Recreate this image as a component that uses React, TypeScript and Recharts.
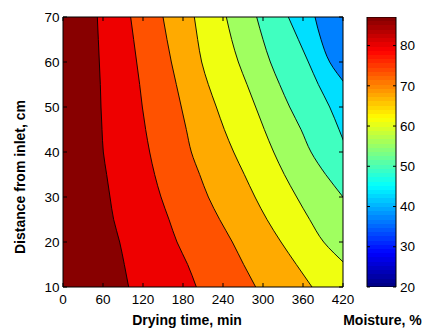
import React from 'react';
import {
  ComposedChart,
  Area,
  XAxis,
  YAxis,
  CartesianGrid,
  BarChart,
  Bar,
} from 'recharts';

// distance from inlet (cm) where each contour line was read
const distance = [70, 65, 60, 55, 50, 45, 40, 35, 30, 25, 20, 15, 10];
// drying time (min) of each contour line at those distances (left to right)
const line1 = [51.5, 53, 54.5, 56, 57, 58.5, 60.5, 65.5, 70.5, 76, 85, 92, 98.5];
const line2 = [101.5, 106, 110.5, 115, 119, 124, 130, 137.5, 147, 159, 171, 187, 200];
const line3 = [150, 156, 162.5, 170, 177.5, 185, 192.5, 205, 218, 235, 254, 271, 289];
const line4 = [197, 202, 208, 218, 230, 242, 256, 272, 288, 306, 327, 350, 373.5];
const line5 = [245, 253, 263, 276, 289, 302, 316, 332, 350.5, 370, 391, 424, 458];
const line6 = [290.5, 300, 311, 325, 340, 357, 372, 394, 420, 444, 470, 497, 525];
const line7 = [338, 353, 368, 383, 400, 414, 428, 446, 465, 485, 505, 525, 545];
const line8 = [378, 387, 400, 424, 450, 475, 500, 525, 550, 575, 600, 625, 650];

// band fill colours, from the left-most band to the right-most one
const bandColors = [
  '#880000', '#EE0000', '#FF5200', '#FFAA00', '#EFFF10',
  '#A0FF60', '#40FFC0', '#00DFFF', '#0080FF',
];

const xTicks = [0, 60, 120, 180, 240, 300, 360, 420];
const yTicks = [10, 20, 30, 40, 50, 60, 70];
const colorTicks = [20, 30, 40, 50, 60, 70, 80];
const colorLimits = [20, 87.1];

const lines = [line1, line2, line3, line4, line5, line6, line7, line8];
const rows = distance.map((d, i) => {
  const row: Record<string, number> = { dist: d };
  lines.forEach((l, k) => {
    row['c' + (k + 1)] = l[i];
  });
  return row;
});

const colorData = [{ name: 'moisture', range: colorLimits }];

const FONT = '"Liberation Sans", Arial, Helvetica, sans-serif';

// matlab jet colormap, used for the colour bar
const jet = (v: number) => {
  const c = (t: number) => Math.round(Math.max(0, Math.min(1, t)) * 255);
  return `rgb(${c(1.5 - Math.abs(4 * v - 3))},${c(1.5 - Math.abs(4 * v - 2))},${c(1.5 - Math.abs(4 * v - 1))})`;
};
const jetStops: { off: number; color: string }[] = [];
for (let i = 0; i < 64; i++) {
  const col = jet((i + 0.5) / 64);
  jetStops.push({ off: i / 64, color: col });
  jetStops.push({ off: (i + 1) / 64, color: col });
}

const BottomTick = (props: any) => {
  const { x, y, payload } = props;
  return (
    <g>
      <line x1={x} y1={y} x2={x} y2={y - 4} stroke="#000" />
      <text x={x} y={y + 17} textAnchor="middle" fontSize={13.5} fontFamily={FONT} fill="#000">
        {payload.value}
      </text>
    </g>
  );
};

const TopTick = (props: any) => {
  const { x, y } = props;
  return <line x1={x} y1={y} x2={x} y2={y + 4} stroke="#000" />;
};

const LeftTick = (props: any) => {
  const { x, y, payload } = props;
  return (
    <g>
      <line x1={x} y1={y} x2={x + 4} y2={y} stroke="#000" />
      <text x={x - 3.5} y={y + 4.7} textAnchor="end" fontSize={13.5} fontFamily={FONT} fill="#000">
        {payload.value}
      </text>
    </g>
  );
};

const RightTick = (props: any) => {
  const { x, y } = props;
  return <line x1={x} y1={y} x2={x - 4} y2={y} stroke="#000" />;
};

const ColorRightTick = (props: any) => {
  const { x, y, payload } = props;
  return (
    <g>
      <line x1={x} y1={y} x2={x - 3} y2={y} stroke="#000" />
      <text x={x + 4} y={y + 4.7} textAnchor="start" fontSize={13.5} fontFamily={FONT} fill="#000">
        {payload.value}
      </text>
    </g>
  );
};

const ColorLeftTick = (props: any) => {
  const { x, y } = props;
  return <line x1={x} y1={y} x2={x + 3} y2={y} stroke="#000" />;
};

export default function App() {
  const order = [8, 7, 6, 5, 4, 3, 2, 1];
  return (
    <div style={{ position: 'absolute', left: 0, top: 0, width: 424, height: 329, background: '#fff' }}>
      <div style={{ position: 'absolute', left: 0, top: 0 }}>
        <ComposedChart
          width={424}
          height={329}
          data={rows}
          layout="vertical"
          margin={{ top: 16, right: 80, bottom: 41, left: 62 }}
        >
          <CartesianGrid horizontal={false} vertical={false} fill={bandColors[8]} fillOpacity={1} />
          {order.map((k) => (
            <Area
              key={k}
              dataKey={'c' + k}
              type="monotone"
              fill={bandColors[k - 1]}
              fillOpacity={1}
              stroke="#000"
              strokeWidth={0.9}
              dot={false}
              activeDot={false}
              isAnimationActive={false}
            />
          ))}
          <XAxis
            type="number"
            domain={[0, 420]}
            ticks={xTicks}
            allowDataOverflow
            height={1}
            tickSize={0}
            tickMargin={0}
            tickLine={false}
            axisLine={{ stroke: '#000' }}
            tick={<BottomTick />}
          />
          <XAxis
            xAxisId="top"
            orientation="top"
            type="number"
            domain={[0, 420]}
            ticks={xTicks}
            allowDataOverflow
            height={1}
            tickSize={0}
            tickMargin={0}
            tickLine={false}
            axisLine={{ stroke: '#000' }}
            tick={<TopTick />}
          />
          <YAxis
            type="number"
            dataKey="dist"
            domain={[10, 70]}
            ticks={yTicks}
            reversed
            allowDataOverflow
            width={1}
            tickSize={0}
            tickMargin={0}
            tickLine={false}
            axisLine={{ stroke: '#000' }}
            tick={<LeftTick />}
          />
          <YAxis
            yAxisId="right"
            orientation="right"
            type="number"
            dataKey="dist"
            domain={[10, 70]}
            ticks={yTicks}
            reversed
            allowDataOverflow
            width={1}
            tickSize={0}
            tickMargin={0}
            tickLine={false}
            axisLine={{ stroke: '#000' }}
            tick={<RightTick />}
          />
          <text x={187} y={324.5} textAnchor="middle" fontSize={14} fontWeight="bold" fontFamily={FONT} fill="#000">
            Drying time, min
          </text>
          <text x={382.5} y={324.5} textAnchor="middle" fontSize={14} fontWeight="bold" fontFamily={FONT} fill="#000">
            Moisture, %
          </text>
          <text
            transform="translate(25,177) rotate(-90)"
            textAnchor="middle"
            fontSize={14}
            fontWeight="bold"
            fontFamily={FONT}
            fill="#000"
          >
            Distance from inlet, cm
          </text>
        </ComposedChart>
      </div>
      <div style={{ position: 'absolute', left: 366, top: 0 }}>
        <BarChart
          width={57}
          height={329}
          data={colorData}
          barCategoryGap={0}
          margin={{ top: 17, right: 26, bottom: 42, left: 0 }}
        >
          <defs>
            <linearGradient id="jetGrad" x1="0" y1="1" x2="0" y2="0">
              {jetStops.map((s, i) => (
                <stop key={i} offset={s.off} stopColor={s.color} />
              ))}
            </linearGradient>
          </defs>
          <XAxis dataKey="name" hide />
          <YAxis
            orientation="right"
            type="number"
            domain={colorLimits}
            ticks={colorTicks}
            allowDataOverflow
            width={1}
            tickSize={0}
            tickMargin={0}
            tickLine={false}
            axisLine={false}
            tick={<ColorRightTick />}
          />
          <YAxis
            yAxisId="left"
            orientation="left"
            type="number"
            domain={colorLimits}
            ticks={colorTicks}
            allowDataOverflow
            width={1}
            tickSize={0}
            tickMargin={0}
            tickLine={false}
            axisLine={false}
            tick={<ColorLeftTick />}
          />
          <Bar dataKey="range" fill="url(#jetGrad)" stroke="#000" strokeWidth={1} isAnimationActive={false} />
        </BarChart>
      </div>
    </div>
  );
}
